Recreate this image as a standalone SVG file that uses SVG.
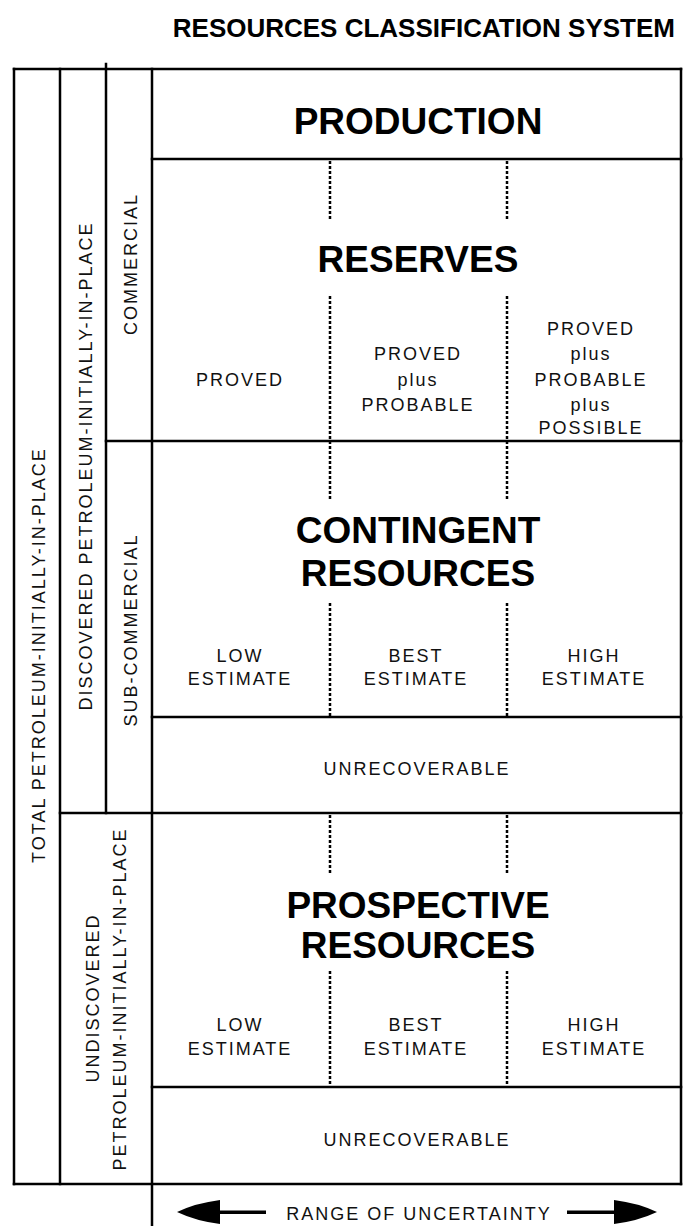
<svg xmlns="http://www.w3.org/2000/svg" width="683" height="1226" viewBox="0 0 683 1226">
<style>
.ln{stroke:#000;stroke-width:2.5;fill:none;stroke-linecap:square}
.dash{stroke:#000;stroke-width:2.5;fill:none;stroke-dasharray:3 2}
.big{font-family:"Liberation Sans",Arial,sans-serif;font-weight:bold;font-size:37px;fill:#000;text-anchor:middle}
.sm{font-family:"Liberation Sans",Arial,sans-serif;font-size:18px;letter-spacing:2px;fill:#111;text-anchor:middle}
.title{font-family:"Liberation Sans",Arial,sans-serif;font-weight:bold;font-size:26px;fill:#000;text-anchor:end}
</style>
<rect width="683" height="1226" fill="#fff"/>
<text class="title" x="675" y="37">RESOURCES CLASSIFICATION SYSTEM</text>

<g id="frame">
<line class="ln" x1="14" y1="69" x2="681" y2="69"/>
<line class="ln" x1="14" y1="1184" x2="681" y2="1184"/>
<line class="ln" x1="14" y1="69" x2="14" y2="1184"/>
<line class="ln" x1="60" y1="69" x2="60" y2="1184"/>
<line class="ln" x1="106" y1="64" x2="106" y2="813"/>
<line class="ln" x1="152" y1="69" x2="152" y2="1226"/>
<line class="ln" x1="681" y1="69" x2="681" y2="1184"/>
<line class="ln" x1="152" y1="159" x2="681" y2="159"/>
<line class="ln" x1="106" y1="441" x2="681" y2="441"/>
<line class="ln" x1="152" y1="717" x2="681" y2="717"/>
<line class="ln" x1="60" y1="813" x2="681" y2="813"/>
<line class="ln" x1="152" y1="1087" x2="681" y2="1087"/>
</g>

<g id="dividers">
<line class="dash" x1="330" y1="161" x2="330" y2="220"/>
<line class="dash" x1="330" y1="296" x2="330" y2="501"/>
<line class="dash" x1="330" y1="603" x2="330" y2="717"/>
<line class="dash" x1="330" y1="815" x2="330" y2="874"/>
<line class="dash" x1="330" y1="971" x2="330" y2="1087"/>
<line class="dash" x1="507" y1="161" x2="507" y2="220"/>
<line class="dash" x1="507" y1="296" x2="507" y2="501"/>
<line class="dash" x1="507" y1="603" x2="507" y2="717"/>
<line class="dash" x1="507" y1="815" x2="507" y2="874"/>
<line class="dash" x1="507" y1="971" x2="507" y2="1087"/>
</g>

<g id="total">
<text class="sm" transform="translate(45,655) rotate(-90)">TOTAL PETROLEUM-INITIALLY-IN-PLACE</text>
</g>
<g id="discovered">
<text class="sm" transform="translate(92,466) rotate(-90)">DISCOVERED PETROLEUM-INITIALLY-IN-PLACE</text>
</g>
<g id="commercial">
<text class="sm" transform="translate(137,264) rotate(-90)">COMMERCIAL</text>
</g>
<g id="subcommercial">
<text class="sm" transform="translate(137,630) rotate(-90)">SUB-COMMERCIAL</text>
</g>
<g id="undiscovered">
<text class="sm" transform="translate(99,998) rotate(-90)">UNDISCOVERED</text>
<text class="sm" transform="translate(126,999) rotate(-90)">PETROLEUM-INITIALLY-IN-PLACE</text>
</g>

<g id="production">
<text class="big" x="418" y="134">PRODUCTION</text>
</g>
<g id="reserves">
<text class="big" x="418" y="272">RESERVES</text>
<text class="sm" x="240" y="386">PROVED</text>
<text class="sm" x="418" y="360">PROVED</text>
<text class="sm" x="418" y="386">plus</text>
<text class="sm" x="418" y="411">PROBABLE</text>
<text class="sm" x="591" y="335">PROVED</text>
<text class="sm" x="591" y="360">plus</text>
<text class="sm" x="591" y="386">PROBABLE</text>
<text class="sm" x="591" y="411">plus</text>
<text class="sm" x="591" y="434">POSSIBLE</text>
</g>
<g id="contingent">
<text class="big" x="418" y="543">CONTINGENT</text>
<text class="big" x="418" y="586">RESOURCES</text>
<text class="sm" x="240" y="662">LOW</text>
<text class="sm" x="240" y="685">ESTIMATE</text>
<text class="sm" x="416" y="662">BEST</text>
<text class="sm" x="416" y="685">ESTIMATE</text>
<text class="sm" x="594" y="662">HIGH</text>
<text class="sm" x="594" y="685">ESTIMATE</text>
</g>
<g id="unrecoverable1">
<text class="sm" x="417" y="775">UNRECOVERABLE</text>
</g>
<g id="prospective">
<text class="big" x="418" y="918">PROSPECTIVE</text>
<text class="big" x="418" y="958">RESOURCES</text>
<text class="sm" x="240" y="1031">LOW</text>
<text class="sm" x="240" y="1055">ESTIMATE</text>
<text class="sm" x="416" y="1031">BEST</text>
<text class="sm" x="416" y="1055">ESTIMATE</text>
<text class="sm" x="594" y="1031">HIGH</text>
<text class="sm" x="594" y="1055">ESTIMATE</text>
</g>
<g id="unrecoverable2">
<text class="sm" x="417" y="1146">UNRECOVERABLE</text>
</g>

<g id="range">
<text class="sm" x="419" y="1220">RANGE OF UNCERTAINTY</text>
<rect x="216" y="1210.5" width="50" height="3.5" fill="#000"/>
<path d="M177,1212 Q196,1203 220,1200 L220,1224 Q196,1221 177,1212 Z" fill="#000"/>
<rect x="567" y="1210.5" width="50" height="3.5" fill="#000"/>
<path d="M657,1212 Q638,1203 614,1200 L614,1224 Q638,1221 657,1212 Z" fill="#000"/>
</g>
</svg>
